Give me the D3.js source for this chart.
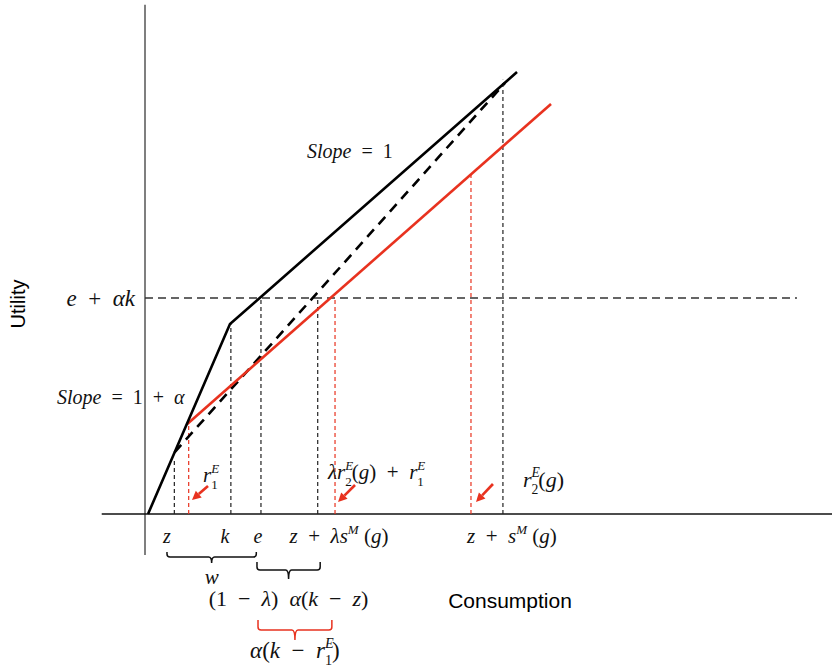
<!DOCTYPE html>
<html>
<head>
<meta charset="utf-8">
<script src="https://cdn.jsdelivr.net/npm/d3@7"></script>
<style>
body { margin: 0; background: #fff; }
text { white-space: pre; }
</style>
</head>
<body>
<script>

// curve data (consumption, utility)
var solidX = [0.44, 12.37, 54.15],
	solidY = [0, 31.42, 73.09];
var dashX = [4.3, 52.4],
	dashY = [10.2, 71.28];
var redX = [6.07, 59.1],
	redY = [14.8, 67.8];

var refLevel = 35.72;   // e + alpha k
var refEnd = 94.9;

// vertical guide lines: x, top, colour
var guideX = [4.27, 12.5, 16.88, 25.14, 52.1, 6.36, 27.66, 47.45],
	guideTop = [9.0, 31.42, 35.72, 35.72, 71.8, 14.55, 35.72, 56.06],
	guideRed = [0, 0, 0, 0, 0, 1, 1, 1];

var tickPos = [3.2, 11.64, 16.45, 28.24, 53.4],
	tickText = ["z", "k", "e", "z  +  λs^M (g)", "z  +  s^M (g)"];

// annotations
var noteText = ["r^E_1", "λr^E_2(g)  +  r^E_1", "r^E_2(g)", "Slope  =  1", "Slope  =  1  +  α", "e  +  αk"],
	noteX = [8.44, 26.64, 55.02, 23.58, -12.8, -1.46],
	noteY = [5.29, 5.79, 4.47, 58.87, 18.19, 34.4];

var arrowX1 = [9.17, 30.57, 50.65], arrowY1 = [4.63, 4.8, 4.96],
	arrowX2 = [6.84, 28.1, 48.18], arrowY2 = [2.32, 1.98, 1.98];

// brackets under the axis
var braceA = [3.2, 16.3, 16.45],
	braceB = [16.2, 25.5, 27.2],
	braceText = ["w", "(1  −  λ)  α(k  −  z)", "α(k  −  r^E_1)"];

var width = 832, height = 667;
var red = "#e8321f";

var svg = d3.select("body").append("svg")
	.attr("width", width).attr("height", height);

var x = d3.scaleLinear().domain([0, 100]).range([145, 832]);
var y = d3.scaleLinear().domain([0, 85]).range([514, 0]);

function isLetter(c){ return /[A-Za-zα-ω]/.test(c); }

// tiny markup: ^X superscript, _X subscript, letters italic
function mathText(g, str, px, py, size, anchor){
	var t = g.append("text")
		.attr("x", px).attr("y", py)
		.attr("text-anchor", anchor || "start")
		.style("font-family", "'Liberation Serif', 'DejaVu Serif', serif")
		.style("font-size", size + "px")
		.style("fill", "#111");
	var shift = 0, lastSup = null, i = 0;
	while(i < str.length){
		var c = str[i];
		if(c === "^" || c === "_"){
			var ch = str[i+1];
			var target = c === "^" ? -0.45 * size : 0.32 * size;
			var ts = t.append("tspan").text(ch)
				.attr("dy", target - shift)
				.style("font-size", (size * 0.62) + "px")
				.style("font-style", isLetter(ch) ? "italic" : "normal");
			if(c === "_" && lastSup){
				ts.attr("dx", -lastSup.node().getComputedTextLength());
			}
			shift = target;
			lastSup = c === "^" ? ts : null;
			i += 2;
			continue;
		}
		var run = c, it = isLetter(c);
		i++;
		while(i < str.length && str[i] !== "^" && str[i] !== "_" && isLetter(str[i]) === it){
			run += str[i]; i++;
		}
		t.append("tspan").text(run)
			.attr("dy", -shift)
			.style("font-style", it ? "italic" : "normal");
		shift = 0;
		lastSup = null;
	}
	return t;
}

var line = d3.line().x(function(d){ return x(d[0]); }).y(function(d){ return y(d[1]); });

// axes
svg.append("line")
	.attr("x1", x(0)).attr("x2", x(0))
	.attr("y1", y(84.2)).attr("y2", y(-6.8))
	.style("stroke", "#555").style("stroke-width", 1.5);
svg.append("line")
	.attr("x1", x(-6.3)).attr("x2", x(100))
	.attr("y1", y(0)).attr("y2", y(0))
	.style("stroke", "#111").style("stroke-width", 1.5);

// e + alpha k level
svg.append("line")
	.attr("x1", x(0)).attr("x2", x(refEnd))
	.attr("y1", y(refLevel)).attr("y2", y(refLevel))
	.style("stroke", "#333").style("stroke-width", 1.5)
	.style("stroke-dasharray", "8,5");

// guides
svg.selectAll(".guide")
	.data(guideX)
	.enter()
	.append("line")
	.attr("class", "guide")
	.attr("x1", function(d){ return x(d); })
	.attr("x2", function(d){ return x(d); })
	.attr("y1", y(0))
	.attr("y2", function(d,i){ return y(guideTop[i]); })
	.style("stroke", function(d,i){ return guideRed[i] ? red : "#222"; })
	.style("stroke-width", 1.2)
	.style("stroke-dasharray", "4,3");

// curves
svg.append("path")
	.attr("d", line(d3.zip(dashX, dashY)))
	.style("fill", "none").style("stroke", "#000")
	.style("stroke-width", 2.6).style("stroke-dasharray", "10,7");
svg.append("path")
	.attr("d", line(d3.zip(redX, redY)))
	.style("fill", "none").style("stroke", red).style("stroke-width", 2.6);
svg.append("path")
	.attr("d", line(d3.zip(solidX, solidY)))
	.style("fill", "none").style("stroke", "#000").style("stroke-width", 2.6)
	.style("stroke-linejoin", "miter");

// arrows
arrowX1.forEach(function(d,i){
	var x1 = x(d), y1 = y(arrowY1[i]), x2 = x(arrowX2[i]), y2 = y(arrowY2[i]);
	var a = Math.atan2(y2 - y1, x2 - x1), L = 9, W = 4.5;
	var bx = x2 - L * Math.cos(a), by = y2 - L * Math.sin(a);
	svg.append("line")
		.attr("x1", x1).attr("y1", y1).attr("x2", bx).attr("y2", by)
		.style("stroke", red).style("stroke-width", 2.6);
	svg.append("path")
		.attr("d", "M" + x2 + "," + y2 +
			"L" + (bx - W * Math.sin(a)) + "," + (by + W * Math.cos(a)) +
			"L" + (bx + W * Math.sin(a)) + "," + (by - W * Math.cos(a)) + "Z")
		.style("fill", red);
});

// tick labels
var tickSize = [20, 20, 20, 21, 21];
tickText.forEach(function(d,i){
	mathText(svg, d, x(tickPos[i]), 543, tickSize[i], "middle");
});

// annotations
var noteSize = [21, 21, 22, 20, 20, 23];
noteText.forEach(function(d,i){
	mathText(svg, d, x(noteX[i]), y(noteY[i]), noteSize[i], i == 5 ? "end" : "start");
});

// braces
var braceTop = [552, 562, 620], braceH = [557, 570, 630], braceTip = [563, 579, 640],
	braceCol = ["#111", "#111", red], braceLab = [584, 606, 658], braceSize = [21, 22, 23];
braceA.forEach(function(d,i){
	var a = x(d), b = x(braceB[i]), c = (a + b) / 2, h = braceH[i], r = 3;
	var p = "M" + a + "," + braceTop[i] + "V" + (h - r) + "Q" + a + "," + h + " " + (a + r) + "," + h +
		"H" + (c - r) + "Q" + c + "," + h + " " + c + "," + braceTip[i] +
		"Q" + c + "," + h + " " + (c + r) + "," + h +
		"H" + (b - r) + "Q" + b + "," + h + " " + b + "," + (h - r) + "V" + braceTop[i];
	svg.append("path").attr("d", p)
		.style("fill", "none").style("stroke", braceCol[i]).style("stroke-width", 1.5);
	mathText(svg, braceText[i], c, braceLab[i], braceSize[i], "middle");
});

// axis titles
svg.append("text")
	.attr("x", 510).attr("y", 608)
	.attr("text-anchor", "middle")
	.style("font-family", "'Liberation Sans', Arial, sans-serif")
	.style("font-size", "21px")
	.text("Consumption");
svg.append("text")
	.attr("transform", "translate(25,304) rotate(-90)")
	.attr("text-anchor", "middle")
	.style("font-family", "'Liberation Sans', Arial, sans-serif")
	.style("font-size", "20px")
	.text("Utility");

</script>
</body>
</html>
